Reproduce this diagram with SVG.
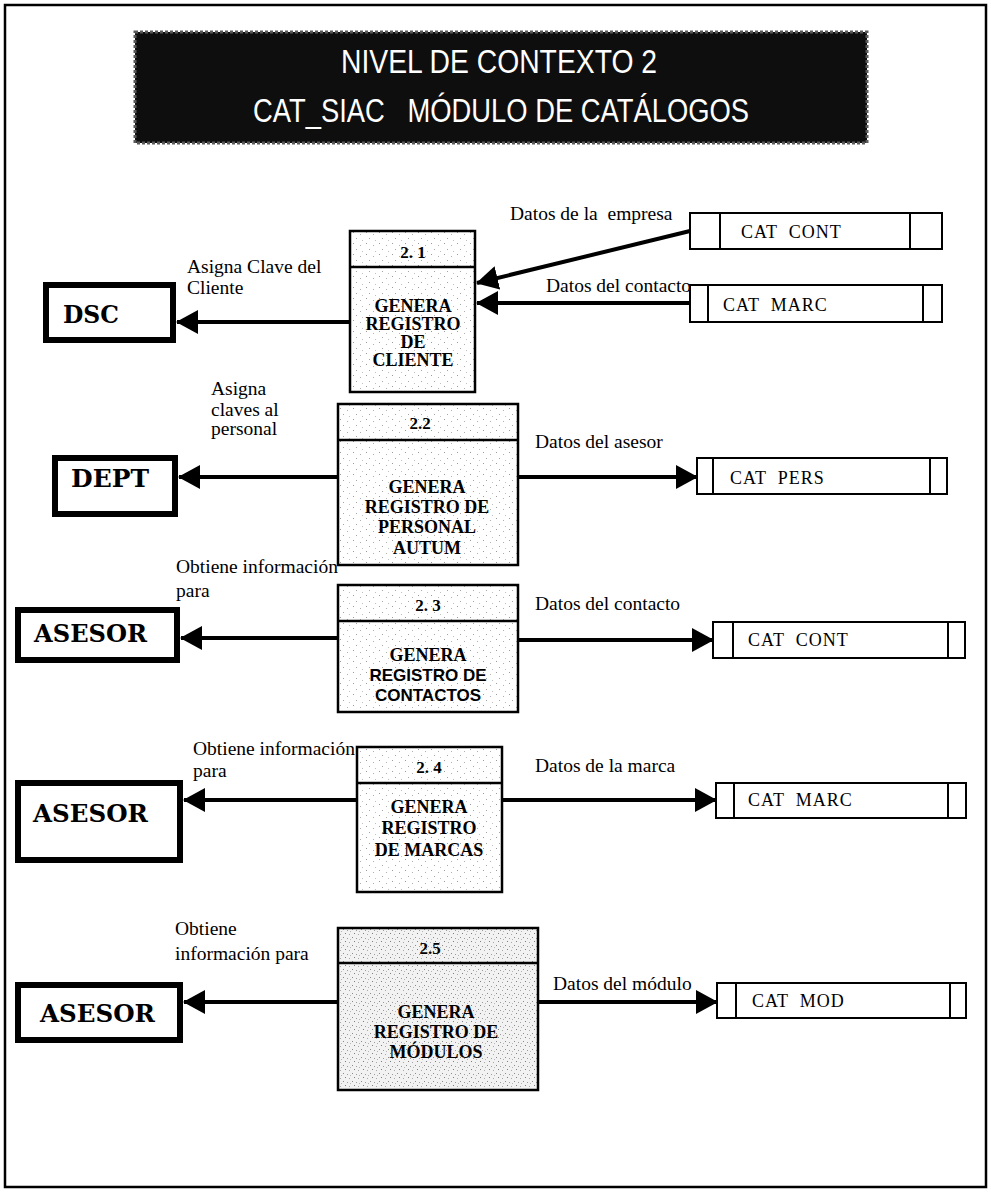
<svg xmlns="http://www.w3.org/2000/svg" width="991" height="1196" viewBox="0 0 991 1196">
  <style>
    .frame { fill: none; stroke: #000; stroke-width: 2.5; }
    .proc { stroke: #000; stroke-width: 2.5; fill: url(#grain); }
    .proc-dark { stroke: #000; stroke-width: 2.5; fill: url(#grainDark); }
    .div { stroke: #000; stroke-width: 2.5; }
    .ent { fill: #fff; stroke: #000; stroke-width: 6; }
    .store { fill: #fff; stroke: #000; stroke-width: 2; }
    .flow { fill: none; stroke: #000; stroke-width: 4; }
    .title { font-family: "Liberation Sans", "DejaVu Sans", sans-serif; font-size: 33px; fill: #fff; }
    .lbl { font-family: "Liberation Serif", "Times New Roman", serif; font-size: 19.5px; fill: #000; white-space: pre; }
    .num { font-family: "Liberation Serif", "Times New Roman", serif; font-size: 17px; font-weight: bold; text-anchor: middle; }
    .ptxt { font-family: "Liberation Serif", "Times New Roman", serif; font-size: 18px; font-weight: bold; text-anchor: middle; }
    .ptxt-sans { font-family: "Liberation Sans", "DejaVu Sans", sans-serif; font-size: 17px; font-weight: bold; text-anchor: middle; }
    .etxt { font-family: "DejaVu Serif", "Liberation Serif", serif; font-size: 25px; font-weight: bold; }
    .stxt { font-family: "Liberation Serif", "Times New Roman", serif; font-size: 18px; letter-spacing: 1px; white-space: pre; }
  </style>
  <defs>
    <pattern id="grain" width="13" height="11" patternUnits="userSpaceOnUse">
      <rect width="13" height="11" fill="#fff"/>
      <rect x="2" y="1" width="1" height="1" fill="#9a9a9a"/>
      <rect x="9" y="3" width="1" height="1" fill="#b0b0b0"/>
      <rect x="5" y="7" width="1" height="1" fill="#a5a5a5"/>
      <rect x="11" y="9" width="1" height="1" fill="#c0c0c0"/>
    </pattern>
    <pattern id="grainDark" width="9" height="8" patternUnits="userSpaceOnUse">
      <rect width="9" height="8" fill="#f2f2f2"/>
      <rect x="1" y="1" width="1" height="1" fill="#8a8a8a"/>
      <rect x="5" y="2" width="1" height="1" fill="#9c9c9c"/>
      <rect x="3" y="5" width="1" height="1" fill="#7f7f7f"/>
      <rect x="7" y="6" width="1" height="1" fill="#a8a8a8"/>
      <rect x="8" y="3" width="1" height="1" fill="#b5b5b5"/>
    </pattern>
    <marker id="head" markerUnits="userSpaceOnUse" markerWidth="22" markerHeight="24" refX="21" refY="12" orient="auto">
      <path d="M0,0 L22,12 L0,24 Z" fill="#000"/>
    </marker>
  </defs>

  <rect width="991" height="1196" fill="#fff"/>
  <rect class="frame" x="5" y="5" width="981" height="1182"/>

  <!-- title banner -->
  <g id="title">
    <rect x="135" y="32" width="732" height="111" fill="#0e0e0e" stroke="#5a5a5a" stroke-width="3" stroke-dasharray="3 2"/>
    <text class="title" x="341" y="73" textLength="316" lengthAdjust="spacingAndGlyphs">NIVEL DE CONTEXTO 2</text>
    <text class="title" x="253" y="122" textLength="496" lengthAdjust="spacingAndGlyphs" xml:space="preserve">CAT_SIAC   MÓDULO DE CATÁLOGOS</text>
  </g>

  <!-- data flows -->
  <g id="connectors">
    <line class="flow" x1="350" y1="322" x2="177" y2="322" marker-end="url(#head)"/>
    <line class="flow" x1="690" y1="231" x2="477" y2="283" marker-end="url(#head)"/>
    <line class="flow" x1="690" y1="303" x2="477" y2="303" marker-end="url(#head)"/>
    <line class="flow" x1="338" y1="477" x2="179" y2="477" marker-end="url(#head)"/>
    <line class="flow" x1="518" y1="477" x2="697" y2="477" marker-end="url(#head)"/>
    <line class="flow" x1="338" y1="638" x2="181" y2="638" marker-end="url(#head)"/>
    <line class="flow" x1="518" y1="640" x2="713" y2="640" marker-end="url(#head)"/>
    <line class="flow" x1="357" y1="800" x2="184" y2="800" marker-end="url(#head)"/>
    <line class="flow" x1="502" y1="800" x2="716" y2="800" marker-end="url(#head)"/>
    <line class="flow" x1="338" y1="1002" x2="184" y2="1002" marker-end="url(#head)"/>
    <line class="flow" x1="538" y1="1002" x2="717" y2="1002" marker-end="url(#head)"/>
  </g>

  <!-- flow labels -->
  <g id="labels">
    <text class="lbl" x="510" y="220">Datos de la  empresa</text>
    <text class="lbl" x="546" y="292">Datos del contacto</text>
    <text class="lbl" x="187" y="273">Asigna Clave del</text>
    <text class="lbl" x="187" y="294">Cliente</text>
    <text class="lbl" x="211" y="395">Asigna</text>
    <text class="lbl" x="211" y="416">claves al</text>
    <text class="lbl" x="211" y="435">personal</text>
    <text class="lbl" x="535" y="448">Datos del asesor</text>
    <text class="lbl" x="176" y="573">Obtiene información</text>
    <text class="lbl" x="176" y="597">para</text>
    <text class="lbl" x="535" y="610">Datos del contacto</text>
    <text class="lbl" x="193" y="755">Obtiene información</text>
    <text class="lbl" x="193" y="777">para</text>
    <text class="lbl" x="535" y="772">Datos de la marca</text>
    <text class="lbl" x="175" y="935">Obtiene</text>
    <text class="lbl" x="175" y="960">información para</text>
    <text class="lbl" x="553" y="990">Datos del módulo</text>
  </g>

  <!-- processes -->
  <g id="p21">
    <rect class="proc" x="350" y="231" width="125" height="161"/>
    <line class="div" x1="350" y1="267" x2="475" y2="267"/>
    <text class="num" x="413" y="258">2. 1</text>
    <text class="ptxt" x="413" y="312">GENERA</text>
    <text class="ptxt" x="413" y="330">REGISTRO</text>
    <text class="ptxt" x="413" y="348">DE</text>
    <text class="ptxt" x="413" y="366">CLIENTE</text>
  </g>
  <g id="p22">
    <rect class="proc" x="338" y="404" width="180" height="161"/>
    <line class="div" x1="338" y1="440" x2="518" y2="440"/>
    <text class="num" x="420" y="429">2.2</text>
    <text class="ptxt" x="427" y="493">GENERA</text>
    <text class="ptxt" x="427" y="513">REGISTRO DE</text>
    <text class="ptxt" x="427" y="533">PERSONAL</text>
    <text class="ptxt" x="427" y="554">AUTUM</text>
  </g>
  <g id="p23">
    <rect class="proc" x="338" y="585" width="180" height="127"/>
    <line class="div" x1="338" y1="621" x2="518" y2="621"/>
    <text class="num" x="428" y="611">2. 3</text>
    <text class="ptxt" x="428" y="661">GENERA</text>
    <text class="ptxt-sans" x="428" y="681">REGISTRO DE</text>
    <text class="ptxt-sans" x="428" y="701">CONTACTOS</text>
  </g>
  <g id="p24">
    <rect class="proc" x="357" y="747" width="145" height="145"/>
    <line class="div" x1="357" y1="783" x2="502" y2="783"/>
    <text class="num" x="429" y="773">2. 4</text>
    <text class="ptxt" x="429" y="813">GENERA</text>
    <text class="ptxt" x="429" y="834">REGISTRO</text>
    <text class="ptxt" x="429" y="856">DE MARCAS</text>
  </g>
  <g id="p25">
    <rect class="proc-dark" x="338" y="928" width="200" height="162"/>
    <line class="div" x1="338" y1="963" x2="538" y2="963"/>
    <text class="num" x="430" y="954">2.5</text>
    <text class="ptxt" x="436" y="1018">GENERA</text>
    <text class="ptxt" x="436" y="1038">REGISTRO DE</text>
    <text class="ptxt" x="436" y="1058">MÓDULOS</text>
  </g>

  <!-- external entities -->
  <g id="e-dsc">
    <rect class="ent" x="46" y="285" width="127" height="55"/>
    <text class="etxt" x="63" y="323" textLength="56" lengthAdjust="spacingAndGlyphs">DSC</text>
  </g>
  <g id="e-dept">
    <rect class="ent" x="55" y="458" width="120" height="56"/>
    <text class="etxt" x="71" y="487" textLength="78" lengthAdjust="spacingAndGlyphs">DEPT</text>
  </g>
  <g id="e-asesor1">
    <rect class="ent" x="18" y="610" width="159" height="50"/>
    <text class="etxt" x="34" y="642" textLength="113" lengthAdjust="spacingAndGlyphs">ASESOR</text>
  </g>
  <g id="e-asesor2">
    <rect class="ent" x="18" y="783" width="162" height="77"/>
    <text class="etxt" x="33" y="822" textLength="115" lengthAdjust="spacingAndGlyphs">ASESOR</text>
  </g>
  <g id="e-asesor3">
    <rect class="ent" x="18" y="985" width="162" height="55"/>
    <text class="etxt" x="40" y="1022" textLength="115" lengthAdjust="spacingAndGlyphs">ASESOR</text>
  </g>

  <!-- data stores -->
  <g id="s-catcont1">
    <rect class="store" x="690" y="213" width="252" height="36"/>
    <line class="store" x1="720" y1="213" x2="720" y2="249"/>
    <line class="store" x1="910" y1="213" x2="910" y2="249"/>
    <text class="stxt" x="741" y="238">CAT  CONT</text>
  </g>
  <g id="s-catmarc1">
    <rect class="store" x="690" y="285" width="252" height="37"/>
    <line class="store" x1="708" y1="285" x2="708" y2="322"/>
    <line class="store" x1="923" y1="285" x2="923" y2="322"/>
    <text class="stxt" x="723" y="311">CAT  MARC</text>
  </g>
  <g id="s-catpers">
    <rect class="store" x="697" y="458" width="250" height="36"/>
    <line class="store" x1="713" y1="458" x2="713" y2="494"/>
    <line class="store" x1="930" y1="458" x2="930" y2="494"/>
    <text class="stxt" x="730" y="484">CAT  PERS</text>
  </g>
  <g id="s-catcont2">
    <rect class="store" x="713" y="622" width="252" height="36"/>
    <line class="store" x1="733" y1="622" x2="733" y2="658"/>
    <line class="store" x1="948" y1="622" x2="948" y2="658"/>
    <text class="stxt" x="748" y="646">CAT  CONT</text>
  </g>
  <g id="s-catmarc2">
    <rect class="store" x="716" y="783" width="250" height="35"/>
    <line class="store" x1="734" y1="783" x2="734" y2="818"/>
    <line class="store" x1="948" y1="783" x2="948" y2="818"/>
    <text class="stxt" x="748" y="806">CAT  MARC</text>
  </g>
  <g id="s-catmod">
    <rect class="store" x="717" y="983" width="249" height="35"/>
    <line class="store" x1="736" y1="983" x2="736" y2="1018"/>
    <line class="store" x1="950" y1="983" x2="950" y2="1018"/>
    <text class="stxt" x="752" y="1007">CAT  MOD</text>
  </g>
</svg>
